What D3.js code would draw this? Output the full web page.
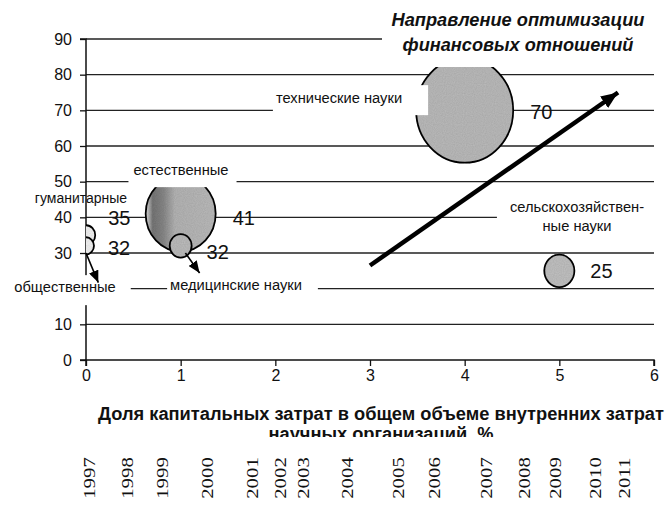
<!DOCTYPE html>
<html>
<head>
<meta charset="utf-8">
<script src="https://cdn.jsdelivr.net/npm/d3@7"></script>
<style>
  body { margin: 0; background: #fff; }
  svg { display: block; font-family: Arial, "Liberation Sans", sans-serif; }
</style>
</head>
<body>
<svg id="chart" width="667" height="513"></svg>
<script>
// bubbles: share of capital costs (x), value (y), bubble size
var sciences = ["общественные", "гуманитарные", "естественные", "медицинские науки", "технические науки", "сельскохозяйственные науки"];
var capShare = [0, 0, 1, 1, 4, 5];
var values   = [32, 35, 41, 32, 70, 25];
var sizes    = [2.7, 3.6, 52, 5.1, 100, 9.6];

var yTicks = [0, 10, 20, 30, 40, 50, 60, 70, 80, 90];
var xTicks = [0, 1, 2, 3, 4, 5, 6];

// arrows in data coordinates
var arrowFrom = [[3, 26.5], [1.05, 30], [0, 30]];
var arrowTo   = [[5.62, 75], [1.2, 24.4], [0.13, 21.7]];

var titleLines = ["Направление оптимизации", "финансовых отношений"];
var xTitleLines = ["Доля капитальных затрат в общем объеме внутренних затрат", "научных организаций, %"];
var years = ["1997", "1998", "1999", "2000", "2001", "2002", "2003", "2004", "2005", "2006", "2007", "2008", "2009", "2010", "2011"];

(function() {
	var svg = d3.select("#chart");

	var x = d3.scaleLinear().domain([0, 6]).range([86, 654]);
	var y = d3.scaleLinear().domain([0, 90]).range([360, 39]);
	var r = d3.scaleSqrt().domain([0, 100]).range([0, 48.5]);
	var stretch = 1.08; // scan is a little taller than wide

	var defs = svg.append("defs");
	defs.append("clipPath").attr("id", "plot")
		.append("rect").attr("x", x(0)).attr("y", y(90) - 2)
		.attr("width", x(6) - x(0)).attr("height", y(0) - y(90) + 2);

	var grad = defs.append("linearGradient").attr("id", "natgrad");
	[[0, "#e6e6e6"], [0.1, "#777"], [0.25, "#888"], [0.42, "#b6b6b6"], [1, "#bcbcbc"]].forEach(function(s) {
		grad.append("stop").attr("offset", s[0]).attr("stop-color", s[1]);
	});

	// speckle like the scan
	var f = defs.append("filter").attr("id", "grain");
	f.append("feTurbulence").attr("type", "fractalNoise").attr("baseFrequency", 0.9).attr("numOctaves", 1).attr("result", "n");
	f.append("feColorMatrix").attr("in", "n").attr("type", "matrix")
		.attr("values", "0 0 0 0 0  0 0 0 0 0  0 0 0 0 0  0 0 0 0.25 0").attr("result", "na");
	f.append("feComposite").attr("in", "na").attr("in2", "SourceGraphic").attr("operator", "in").attr("result", "nc");
	var fm = f.append("feMerge");
	fm.append("feMergeNode").attr("in", "SourceGraphic");
	fm.append("feMergeNode").attr("in", "nc");

	function arrowHead(id, len, wid) {
		defs.append("marker").attr("id", id)
			.attr("markerUnits", "userSpaceOnUse")
			.attr("viewBox", "0 0 " + len + " " + wid)
			.attr("refX", len).attr("refY", wid / 2)
			.attr("markerWidth", len).attr("markerHeight", wid)
			.attr("orient", "auto")
			.append("path").attr("d", "M0,0L" + len + "," + (wid / 2) + "L0," + wid + "Z").attr("fill", "#000");
	}
	arrowHead("bighead", 17, 14);
	arrowHead("smallhead", 12, 10);

	// grid
	svg.append("g").selectAll("line")
		.data(yTicks.slice(1))
		.enter().append("line")
		.attr("x1", x(0)).attr("x2", x(6))
		.attr("y1", function(d) { return y(d); })
		.attr("y2", function(d) { return y(d); })
		.attr("stroke", "#222").attr("stroke-width", 1.3);

	// axes
	var yAxis = svg.append("g")
		.attr("transform", "translate(" + x(0) + ",0)")
		.call(d3.axisLeft(y).tickValues(yTicks).tickSize(6).tickPadding(8));
	var xAxis = svg.append("g")
		.attr("transform", "translate(0," + y(0) + ")")
		.call(d3.axisBottom(x).tickValues(xTicks).tickFormat(d3.format("d")).tickSize(6).tickPadding(4));
	[yAxis, xAxis].forEach(function(a) {
		a.select(".domain").attr("stroke", "#111").attr("stroke-width", 1.5);
		a.selectAll(".tick line").attr("stroke", "#111").attr("stroke-width", 1.3);
		a.selectAll("text").attr("fill", "#111").style("font-size", "16px").style("font-family", "Arial, 'Liberation Sans', sans-serif");
	});
	yAxis.select(".domain").attr("d", "M-6," + y(90) + "H0V" + y(0) + "H-6");
	xAxis.select(".domain").attr("d", "M" + x(0) + ",6V0H" + x(6) + "V6");
	// the "20" tick sits under the label box of "общественные" in the original
	yAxis.selectAll(".tick").filter(function(d) { return d === 20; }).remove();

	// bubbles
	var idx = d3.range(sciences.length);
	var fills = ["#f4f4f4", "#f4f4f4", "url(#natgrad)", "#bdbdbd", "#bcbcbc", "#c2c2c2"];
	svg.append("g").attr("clip-path", "url(#plot)")
		.selectAll("ellipse")
		.data(idx.slice().sort(function(a, b) { return sizes[b] - sizes[a]; }))
		.enter().append("ellipse")
		.attr("cx", function(i) { return x(capShare[i]); })
		.attr("cy", function(i) { return y(values[i]); })
		.attr("rx", function(i) { return r(sizes[i]); })
		.attr("ry", function(i) { return r(sizes[i]) * stretch; })
		.attr("fill", function(i) { return fills[i]; })
		.attr("filter", "url(#grain)")
		.attr("stroke", "#111").attr("stroke-width", 1.8);

	// category labels with white boxes (as in Excel); pad = [left, right, top, bottom]
	var nameLines = [["общественные"], ["гуманитарные"], ["естественные"], ["медицинские науки"], ["технические науки"], ["сельскохозяйствен-", "ные науки"]];
	var nameX = [65, 81, 181, 236, 339, 577];
	var nameY = [287, 198.5, 170, 285, 98, 207];
	var nameSize = [14.7, 14, 14.7, 14.7, 14.7, 14.7];
	var namePad = [[55, 15, 4, 10], null, [5, 8, 4, 9], [3, 16, 3, 8], [3, 26, 5, 9], [13, 18, 4, 6]];

	var names = svg.append("g");
	idx.forEach(function(i) {
		var g = names.append("g");
		var box = g.append("rect").attr("fill", "#fff");
		var t = g.append("text")
			.attr("text-anchor", "middle")
			.style("font-size", nameSize[i] + "px").attr("fill", "#111");
		nameLines[i].forEach(function(line, k) {
			t.append("tspan").attr("x", nameX[i]).attr("y", nameY[i] + k * 19).attr("dy", "0.35em").text(line);
		});
		if (namePad[i]) {
			var bb = t.node().getBBox(), p = namePad[i];
			box.attr("x", bb.x - p[0]).attr("y", bb.y - p[2])
				.attr("width", bb.width + p[0] + p[1]).attr("height", bb.height + p[2] + p[3]);
		} else {
			box.remove();
		}
	});

	// value labels, moved by hand in the original
	var valDx = [14, 13, 17, 15, 17, 16];
	var valDy = [2, -17.6, 4, 6, 1, 0];
	svg.append("g").selectAll("text")
		.data(idx)
		.enter().append("text")
		.attr("x", function(i) { return x(capShare[i]) + r(sizes[i]) + valDx[i]; })
		.attr("y", function(i) { return y(values[i]) + valDy[i]; })
		.attr("dy", "0.36em")
		.style("font-size", "20px").attr("fill", "#111")
		.text(function(i) { return values[i]; });

	// arrows
	svg.append("g").selectAll("line")
		.data(d3.range(arrowFrom.length))
		.enter().append("line")
		.attr("x1", function(i) { return x(arrowFrom[i][0]); })
		.attr("y1", function(i) { return y(arrowFrom[i][1]); })
		.attr("x2", function(i) { return x(arrowTo[i][0]); })
		.attr("y2", function(i) { return y(arrowTo[i][1]); })
		.attr("stroke", "#000")
		.attr("stroke-width", function(i) { return i === 0 ? 4.5 : 1.6; })
		.attr("marker-end", function(i) { return i === 0 ? "url(#bighead)" : "url(#smallhead)"; });

	function fit(t, w) {
		var fs = parseFloat(t.style("font-size"));
		fs = fs * w / t.node().getComputedTextLength();
		t.style("font-size", fs + "px");
		return fs;
	}

	// title box and title
	svg.append("rect").attr("x", 382).attr("y", 0).attr("width", 285).attr("height", 67).attr("fill", "#fff");
	var titleW = [253, 231];
	titleLines.forEach(function(line, k) {
		var t = svg.append("text")
			.attr("x", 518).attr("y", 20 + k * 25).attr("dy", "0.35em")
			.attr("text-anchor", "middle")
			.style("font-size", "17px").style("font-weight", "bold").style("font-style", "italic")
			.attr("fill", "#111").text(line);
		fit(t, titleW[k]);
	});

	// x axis title, second line is cut in the scan
	defs.append("clipPath").attr("id", "xcut")
		.append("rect").attr("x", 0).attr("y", 395).attr("width", 667).attr("height", 42);
	var xTitle = svg.append("g").attr("clip-path", "url(#xcut)");
	var xTitleSize = 16;
	xTitleLines.forEach(function(line, k) {
		var t = xTitle.append("text")
			.attr("x", 381).attr("y", 414 + k * 20).attr("dy", "0.35em")
			.attr("text-anchor", "middle")
			.style("font-size", xTitleSize + "px").style("font-weight", "bold")
			.attr("fill", "#111").text(line);
		if (k === 0) xTitleSize = fit(t, 566);
	});

	// stray year labels from the page below
	var yearX = [90, 128, 163, 208, 253, 281, 304, 348, 399, 435, 487, 525, 556, 596, 625];
	svg.append("g").selectAll("text")
		.data(years)
		.enter().append("text")
		.attr("transform", function(d, i) { return "translate(" + yearX[i] + ",478) rotate(-90) scale(1.3,1)"; })
		.attr("text-anchor", "middle").attr("dy", "0.33em")
		.style("font-family", "'Liberation Serif', 'Times New Roman', serif")
		.style("font-size", "16px").attr("fill", "#111")
		.text(function(d) { return d; });
})();
</script>
</body>
</html>
